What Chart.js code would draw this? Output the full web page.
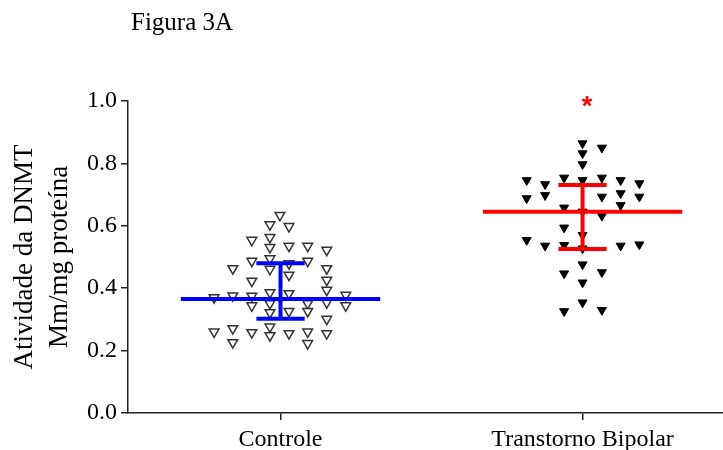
<!DOCTYPE html>
<html>
<head>
<meta charset="utf-8">
<script src="https://cdn.jsdelivr.net/npm/chart.js@4"></script>
<style>
html,body{margin:0;padding:0;background:#fff;}
canvas{display:block;}
</style>
</head>
<body>
<canvas id="c" width="723" height="450"></canvas>
<script>
// ---- data ----
const categories = ['Controle', 'Transtorno Bipolar'];
const yTicks = [0, 0.2, 0.4, 0.6, 0.8, 1.0];

// horizontal jitter within each category column (in category units)
const controleOffset = [-0.002,-0.035,0.028,-0.095,-0.035,-0.035,0.028,0.090,0.153,-0.095,-0.035,0.028,0.090,-0.158,-0.035,0.153,0.028,-0.095,0.153,0.153,-0.035,0.028,-0.220,-0.158,-0.095,0.216,-0.095,-0.035,0.090,0.153,0.216,-0.035,0.028,0.090,0.153,-0.220,-0.158,-0.095,-0.035,-0.035,0.028,0.090,0.153,-0.158,0.090];
const controleValues = [0.634,0.604,0.598,0.554,0.563,0.531,0.535,0.535,0.522,0.487,0.495,0.479,0.487,0.463,0.461,0.463,0.442,0.423,0.426,0.394,0.386,0.383,0.370,0.376,0.375,0.378,0.344,0.351,0.351,0.354,0.344,0.322,0.326,0.326,0.301,0.260,0.271,0.258,0.276,0.248,0.255,0.260,0.255,0.226,0.223];

const bipolarOffset = [0,0,0.064,0,-0.185,-0.124,-0.061,0,0.064,0.126,0.188,-0.185,-0.124,0.064,0.126,0.188,0.126,-0.061,0,0.064,-0.061,0,-0.185,-0.124,-0.061,0,0.126,0.188,0,-0.061,0.064,0,0,-0.061,0.064];
const bipolarValues = [0.864,0.832,0.850,0.797,0.746,0.733,0.754,0.746,0.754,0.746,0.736,0.688,0.698,0.693,0.704,0.693,0.666,0.658,0.645,0.632,0.594,0.570,0.554,0.536,0.538,0.527,0.536,0.540,0.476,0.447,0.451,0.418,0.354,0.326,0.330];

const means   = [0.365, 0.645];
const sdUpper = [0.480, 0.731];
const sdLower = [0.302, 0.526];
const seriesColors = ['#0000ff', '#ff0000'];
const significance = {x: 2.015, y: 0.99, text: '*'};

// ---- build ----
const MEAN_HALF = 0.33, CAP_HALF = 0.08;
function pts(center, offs, vals){ return vals.map((v,i)=>({x:center+offs[i], y:v})); }

const datasets = [
  {label:'Controle', data:pts(1, controleOffset, controleValues), pointStyle:'triangle', rotation:180,
   pointRadius:5.6, pointBackgroundColor:'#ffffff', pointBorderColor:'#333333', pointBorderWidth:1.5, showLine:false, order:5},
  {label:'Transtorno Bipolar', data:pts(2, bipolarOffset, bipolarValues), pointStyle:'triangle', rotation:180,
   pointRadius:5.2, pointBackgroundColor:'#000000', pointBorderColor:'#000000', pointBorderWidth:1, showLine:false, order:5}
];
for (let g=0; g<2; g++){
  const c = g+1, col = seriesColors[g];
  const segs = [
    [{x:c-MEAN_HALF,y:means[g]},{x:c+MEAN_HALF,y:means[g]}],
    [{x:c,y:sdLower[g]},{x:c,y:sdUpper[g]}],
    [{x:c-CAP_HALF,y:sdUpper[g]},{x:c+CAP_HALF,y:sdUpper[g]}],
    [{x:c-CAP_HALF,y:sdLower[g]},{x:c+CAP_HALF,y:sdLower[g]}]
  ];
  segs.forEach(s=>datasets.push({data:s, showLine:true, borderColor:col, borderWidth:4,
    borderCapStyle:'butt', pointRadius:0, order:1}));
}

const extras = {
  id:'extras',
  afterDraw(chart){
    const ctx = chart.ctx;
    ctx.save();
    ctx.fillStyle = '#000';
    ctx.font = '25px "Liberation Serif", "Times New Roman", serif';
    ctx.textAlign = 'left'; ctx.textBaseline = 'alphabetic';
    ctx.fillText('Figura 3A', 131, 30);
    const xs = chart.scales.x, ys = chart.scales.y;
    ctx.fillStyle = '#ff0000';
    ctx.font = 'bold 27px "Liberation Sans", Arial, sans-serif';
    ctx.textAlign = 'center';
    ctx.fillText(significance.text, xs.getPixelForValue(significance.x), ys.getPixelForValue(significance.y) + 11);
    ctx.restore();
  }
};

new Chart(document.getElementById('c'), {
  type:'scatter',
  data:{datasets},
  plugins:[extras],
  options:{
    responsive:false, animation:false, devicePixelRatio:1,
    layout:{autoPadding:false, padding:{top:101, right:0, bottom:0, left:0}},
    plugins:{legend:{display:false}, tooltip:{enabled:false}, title:{display:false}},
    scales:{
      x:{type:'linear', min:0.495, max:2.465,
        afterBuildTicks(s){ s.ticks = [{value:1},{value:2}]; },
        afterFit(s){ s.height = 37; s.paddingLeft = 0; s.paddingRight = 0; },
        grid:{drawOnChartArea:false, drawTicks:true, tickLength:7, color:'#222', lineWidth:1.5},
        border:{display:true, color:'#222', width:1.5},
        ticks:{padding:5, color:'#000', maxRotation:0, autoSkip:false,
          font:{family:'"Liberation Serif", "Times New Roman", serif', size:24},
          callback:(v)=>categories[Math.round(v)-1] || ''}
      },
      y:{type:'linear', min:0, max:1,
        afterBuildTicks(s){ s.ticks = yTicks.map(v=>({value:v})); },
        afterFit(s){ s.width = 128; s.paddingTop = 0; s.paddingBottom = 0; },
        grid:{drawOnChartArea:false, drawTicks:true, tickLength:7, color:'#222', lineWidth:1.5},
        border:{display:true, color:'#222', width:1.5},
        ticks:{padding:4, color:'#000',
          font:{family:'"Liberation Serif", "Times New Roman", serif', size:24},
          callback:(v)=>Number(v).toFixed(1)},
        title:{display:true, text:['Atividade da DNMT','Mm/mg proteína'], color:'#000',
          padding:{top:7, bottom:0},
          font:{family:'"Liberation Serif", "Times New Roman", serif', size:27, lineHeight:1.3}}
      }
    }
  }
});
</script>
</body>
</html>
